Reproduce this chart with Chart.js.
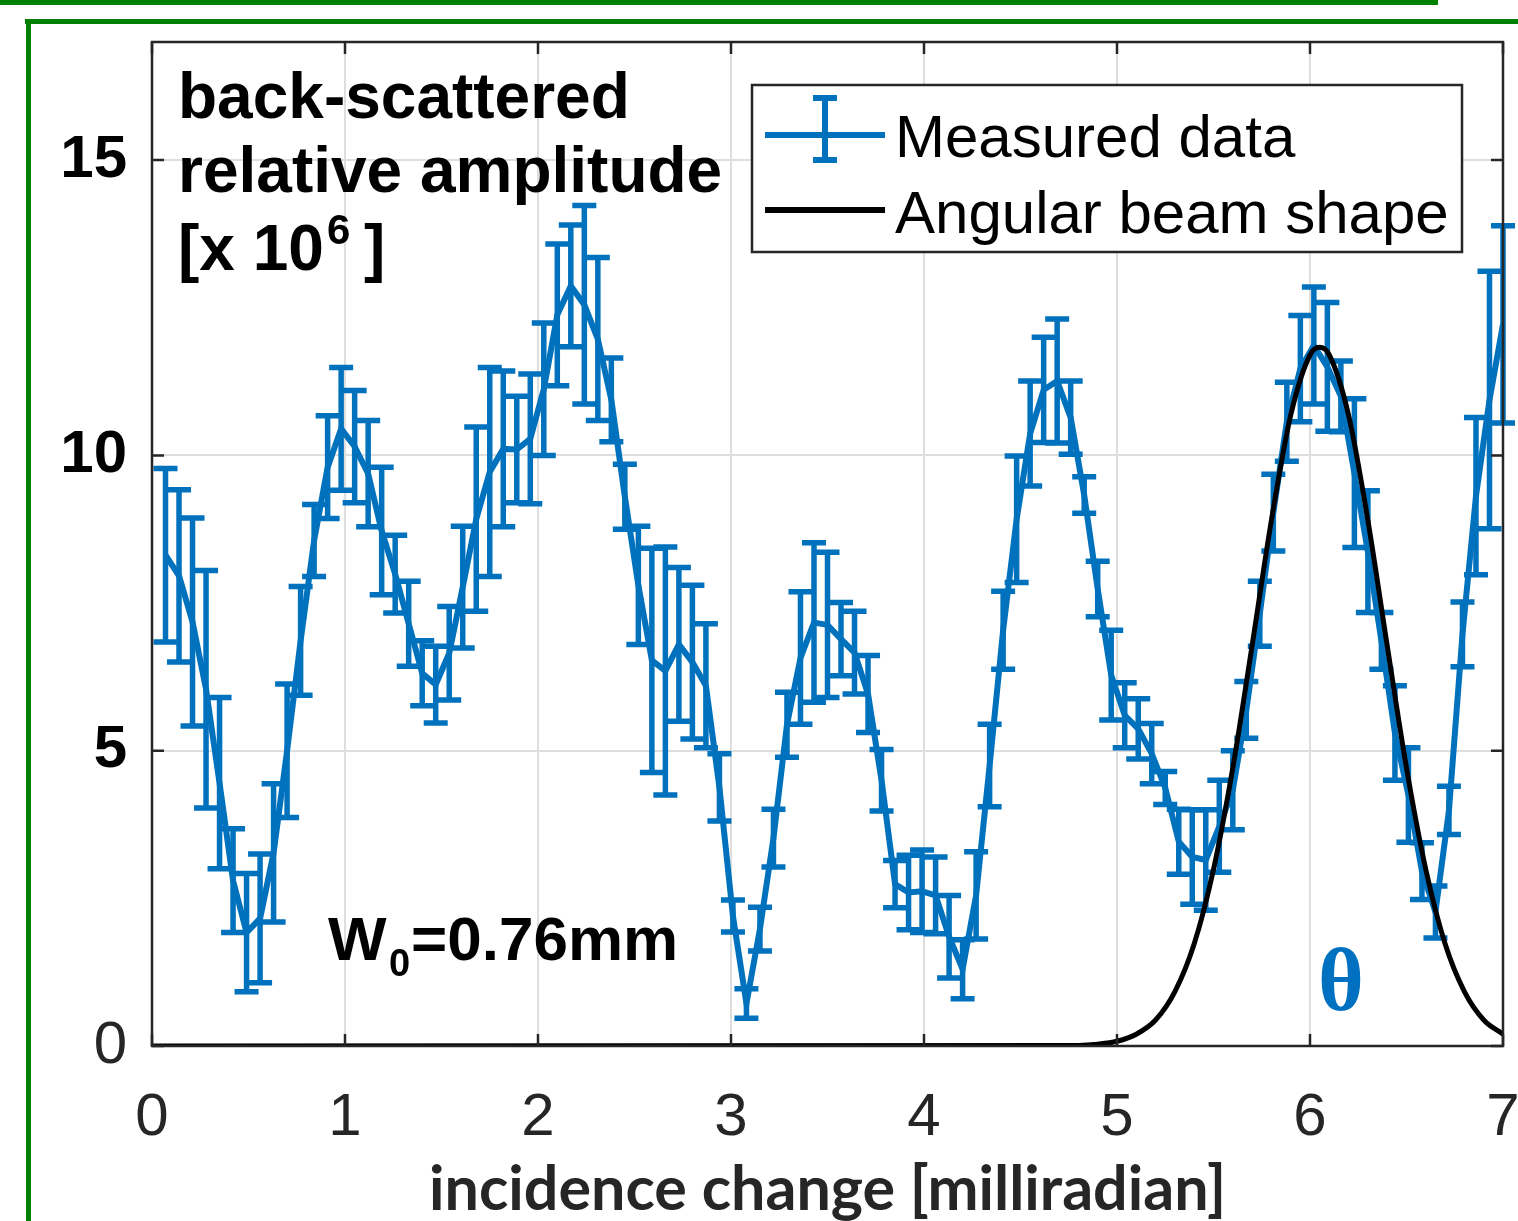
<!DOCTYPE html>
<html>
<head>
<meta charset="utf-8">
<title>Back-scattered relative amplitude</title>
<script src="https://cdn.jsdelivr.net/npm/chart.js@4.4.1/dist/chart.umd.min.js"></script>
<style>
    html, body { margin: 0; padding: 0; background: #fff; }
    #wrap { width: 1518px; height: 1221px; }
</style>
</head>
<body>
<div id="wrap"><canvas id="chart" width="1518" height="1221"></canvas></div>
<script>
// Measured points (incidence change in mrad)
const incidence = [
    0.07, 0.14, 0.21, 0.28, 0.35, 0.42, 0.49, 0.56, 0.63, 0.70,
    0.77, 0.84, 0.91, 0.98, 1.05, 1.12, 1.19, 1.26, 1.33, 1.40,
    1.47, 1.54, 1.61, 1.68, 1.75, 1.82, 1.89, 1.96, 2.03, 2.10,
    2.17, 2.24, 2.31, 2.38, 2.45, 2.52, 2.59, 2.66, 2.73, 2.80,
    2.87, 2.94, 3.01, 3.08, 3.15, 3.22, 3.29, 3.36, 3.43, 3.50,
    3.57, 3.64, 3.71, 3.78, 3.85, 3.92, 3.99, 4.06, 4.13, 4.20,
    4.27, 4.34, 4.41, 4.48, 4.55, 4.62, 4.69, 4.76, 4.83, 4.90,
    4.97, 5.04, 5.11, 5.18, 5.25, 5.32, 5.39, 5.46, 5.53, 5.60,
    5.67, 5.74, 5.81, 5.88, 5.95, 6.02, 6.09, 6.16, 6.23, 6.30,
    6.37, 6.44, 6.51, 6.58, 6.65, 6.72, 6.79, 6.86, 6.93, 7.00
];

const amplitude = [
    8.31, 7.96, 7.18, 6.04, 4.45, 2.80, 1.92, 2.16, 3.27, 5.00,
    6.86, 8.56, 9.80, 10.45, 10.15, 9.69, 8.72, 7.99, 7.15, 6.31,
    6.12, 6.65, 7.77, 8.92, 9.72, 10.11, 10.10, 10.28, 11.12, 12.38,
    12.87, 12.55, 11.97, 10.94, 9.30, 7.80, 6.53, 6.35, 6.80, 6.50,
    6.10, 4.38, 2.20, 0.72, 1.98, 3.52, 5.44, 6.57, 7.17, 7.13,
    6.89, 6.66, 5.96, 4.50, 2.74, 2.60, 2.62, 2.55, 1.85, 1.30,
    2.55, 4.75, 7.04, 8.92, 10.37, 11.11, 11.26, 10.64, 9.33, 7.74,
    6.28, 5.60, 5.37, 4.95, 4.37, 3.46, 3.20, 3.15, 3.72, 4.33,
    5.69, 7.32, 9.03, 10.57, 11.47, 11.86, 11.50, 11.00, 9.70, 8.37,
    6.86, 5.30, 4.25, 2.96, 2.27, 3.99, 6.97, 9.31, 10.94, 12.22
];

const amplitudeError = [
    1.47, 1.46, 1.76, 2.01, 1.45, 0.88, 1.00, 1.09, 1.17, 1.13,
    0.92, 0.61, 0.87, 1.04, 0.95, 0.90, 1.08, 0.66, 0.72, 0.55,
    0.65, 0.79, 1.03, 1.56, 1.77, 1.32, 0.90, 1.10, 1.12, 1.20,
    1.03, 1.68, 1.38, 0.71, 0.55, 1.00, 1.90, 2.10, 1.30, 1.30,
    1.05, 0.57, 0.27, 0.25, 0.37, 0.49, 0.55, 1.12, 1.35, 1.23,
    0.62, 0.70, 0.65, 0.52, 0.40, 0.63, 0.70, 0.65, 0.70, 0.50,
    0.74, 0.70, 0.66, 1.07, 0.89, 0.89, 1.05, 0.62, 0.31, 0.47,
    0.76, 0.55, 0.51, 0.51, 0.28, 0.55, 0.80, 0.85, 0.78, 0.67,
    0.48, 0.55, 0.65, 0.67, 0.90, 0.99, 1.09, 0.60, 1.26, 1.03,
    0.48, 0.80, 0.80, 0.48, 0.44, 0.41, 0.55, 1.33, 2.18, 1.67
];

// Angular beam shape
const beamX = [0, 4.8, 4.9, 5.0, 5.1, 5.2, 5.3, 5.4, 5.5, 5.6, 5.7, 5.8, 5.9,
    6.0, 6.05, 6.1, 6.2, 6.3, 6.4, 6.5, 6.6, 6.7, 6.8, 6.9, 7.0];
const beamY = [0, 0.01, 0.03, 0.08, 0.20, 0.44, 0.92, 1.73, 2.99, 4.71, 6.78, 8.90, 10.68,
    11.70, 11.83, 11.70, 10.68, 8.90, 6.78, 4.71, 2.99, 1.73, 0.92, 0.44, 0.20];

const xTicks = [0, 1, 2, 3, 4, 5, 6, 7];
const yTicks = [0, 5, 10, 15];

const BLUE = '#0072BD';
const AXIS = '#262626';

// Error bars for any dataset carrying an "errors" array
const errorBarPlugin = {
    id: 'errorBars',
    afterDatasetDraw(chart, args) {
        const ds = chart.data.datasets[args.index];
        if (!ds.errors) return;
        const ctx = chart.ctx;
        const xs = chart.scales.x;
        const ys = chart.scales.y;
        ctx.save();
        ctx.strokeStyle = ds.borderColor;
        ctx.lineWidth = 5.5;
        ctx.lineCap = 'butt';
        ds.data.forEach((p, i) => {
            const px = xs.getPixelForValue(p.x);
            const top = ys.getPixelForValue(p.y + ds.errors[i]);
            const bot = ys.getPixelForValue(p.y - ds.errors[i]);
            ctx.beginPath();
            ctx.moveTo(px, top);
            ctx.lineTo(px, bot);
            ctx.moveTo(px - 12, top);
            ctx.lineTo(px + 12, top);
            ctx.moveTo(px - 12, bot);
            ctx.lineTo(px + 12, bot);
            ctx.stroke();
        });
        ctx.restore();
    }
};

// Page frame, axes box, legend and text labels
const decorPlugin = {
    id: 'decor',
    beforeDraw(chart) {
        const ctx = chart.ctx;
        ctx.save();
        ctx.fillStyle = '#fff';
        ctx.fillRect(0, 0, chart.width, chart.height);
        ctx.fillStyle = '#008000';
        ctx.fillRect(0, 0, 1438, 5);
        ctx.fillRect(25, 19, 1493, 5);
        ctx.fillRect(26, 19, 5, 1202);
        ctx.restore();
    },
    afterDraw(chart) {
        const ctx = chart.ctx;
        const area = chart.chartArea;
        const xs = chart.scales.x;
        const ys = chart.scales.y;

        ctx.save();
        // axes box with inward ticks
        ctx.strokeStyle = AXIS;
        ctx.lineWidth = 2.5;
        ctx.strokeRect(area.left, area.top, area.right - area.left, area.bottom - area.top);
        ctx.beginPath();
        xTicks.forEach(v => {
            const px = xs.getPixelForValue(v);
            ctx.moveTo(px, area.bottom);
            ctx.lineTo(px, area.bottom - 12);
            ctx.moveTo(px, area.top);
            ctx.lineTo(px, area.top + 12);
        });
        yTicks.forEach(v => {
            const py = ys.getPixelForValue(v);
            ctx.moveTo(area.left, py);
            ctx.lineTo(area.left + 12, py);
            ctx.moveTo(area.right, py);
            ctx.lineTo(area.right - 12, py);
        });
        ctx.stroke();

        // legend
        ctx.fillStyle = '#fff';
        ctx.fillRect(752, 85, 710, 167);
        ctx.strokeRect(752, 85, 710, 167);
        ctx.strokeStyle = BLUE;
        ctx.lineWidth = 6;
        ctx.beginPath();
        ctx.moveTo(765, 135); ctx.lineTo(885, 135);
        ctx.moveTo(825, 98); ctx.lineTo(825, 160);
        ctx.moveTo(813, 98); ctx.lineTo(837, 98);
        ctx.moveTo(813, 160); ctx.lineTo(837, 160);
        ctx.stroke();
        ctx.strokeStyle = '#000';
        ctx.beginPath();
        ctx.moveTo(765, 210); ctx.lineTo(885, 210);
        ctx.stroke();
        ctx.fillStyle = '#000';
        ctx.font = '60px "Liberation Sans"';
        ctx.textBaseline = 'alphabetic';
        ctx.fillText(chart.data.datasets[0].label, 895, 157);
        ctx.fillText(chart.data.datasets[1].label, 895, 233);

        // y quantity written inside the plot
        ctx.font = 'bold 64px "Liberation Sans"';
        ctx.fillText('back-scattered', 178, 118);
        ctx.fillText('relative amplitude', 178, 192);
        ctx.fillText('[x 10', 178, 270);
        ctx.fillText(']', 364, 270);
        ctx.font = 'bold 42px "Liberation Sans"';
        ctx.fillText('6', 327, 244);

        // beam waist
        ctx.font = 'bold 62px "Liberation Sans"';
        ctx.fillText('W', 328, 960);
        ctx.fillText('=0.76mm', 411, 960);
        ctx.font = 'bold 38px "Liberation Sans"';
        ctx.fillText('0', 389, 976);

        // theta marker
        ctx.fillStyle = '#0070C0';
        ctx.font = 'bold 88px "Liberation Serif"';
        ctx.textAlign = 'center';
        ctx.fillText('θ', 1341, 1010);
        ctx.restore();
    }
};

new Chart(document.getElementById('chart'), {
    type: 'line',
    data: {
        datasets: [
            {
                label: 'Measured data',
                data: incidence.map((x, i) => ({ x: x, y: amplitude[i] })),
                errors: amplitudeError,
                borderColor: BLUE,
                borderWidth: 6,
                pointRadius: 0,
                tension: 0,
                order: 2
            },
            {
                label: 'Angular beam shape',
                data: beamX.map((x, i) => ({ x: x, y: beamY[i] })),
                borderColor: '#000',
                borderWidth: 5,
                pointRadius: 0,
                cubicInterpolationMode: 'monotone',
                order: 1
            }
        ]
    },
    options: {
        responsive: false,
        animation: false,
        devicePixelRatio: 1,
        layout: { padding: { top: 42, right: 15, left: 0, bottom: 0 } },
        plugins: {
            legend: { display: false },
            tooltip: { enabled: false }
        },
        scales: {
            x: {
                type: 'linear',
                min: 0,
                max: 7,
                afterBuildTicks: s => { s.ticks = xTicks.map(v => ({ value: v })); },
                afterFit: s => { s.height = 175; s.paddingLeft = 0; s.paddingRight = 0; },
                ticks: {
                    font: { family: 'Liberation Sans', size: 60 },
                    color: AXIS,
                    padding: 36,
                    maxRotation: 0
                },
                grid: { color: '#dedede', lineWidth: 2, drawTicks: false },
                border: { display: false },
                title: {
                    display: true,
                    text: 'incidence change [milliradian]',
                    font: { family: 'Lato', size: 61, weight: 'bold', lineHeight: 1.02 },
                    color: AXIS,
                    padding: { top: 0, bottom: 0 }
                }
            },
            y: {
                min: 0,
                max: 17,
                afterBuildTicks: s => { s.ticks = yTicks.map(v => ({ value: v })); },
                afterFit: s => { s.width = 152; s.paddingTop = 0; s.paddingBottom = 0; },
                ticks: {
                    font: ctx => ({
                        family: 'Liberation Sans',
                        size: 60,
                        weight: ctx.tick && ctx.tick.value === 0 ? 'normal' : 'bold'
                    }),
                    color: ctx => (ctx.tick && ctx.tick.value === 0 ? AXIS : '#000'),
                    padding: 25
                },
                grid: { color: '#dedede', lineWidth: 2, drawTicks: false },
                border: { display: false }
            }
        }
    },
    plugins: [errorBarPlugin, decorPlugin]
});
</script>
</body>
</html>
